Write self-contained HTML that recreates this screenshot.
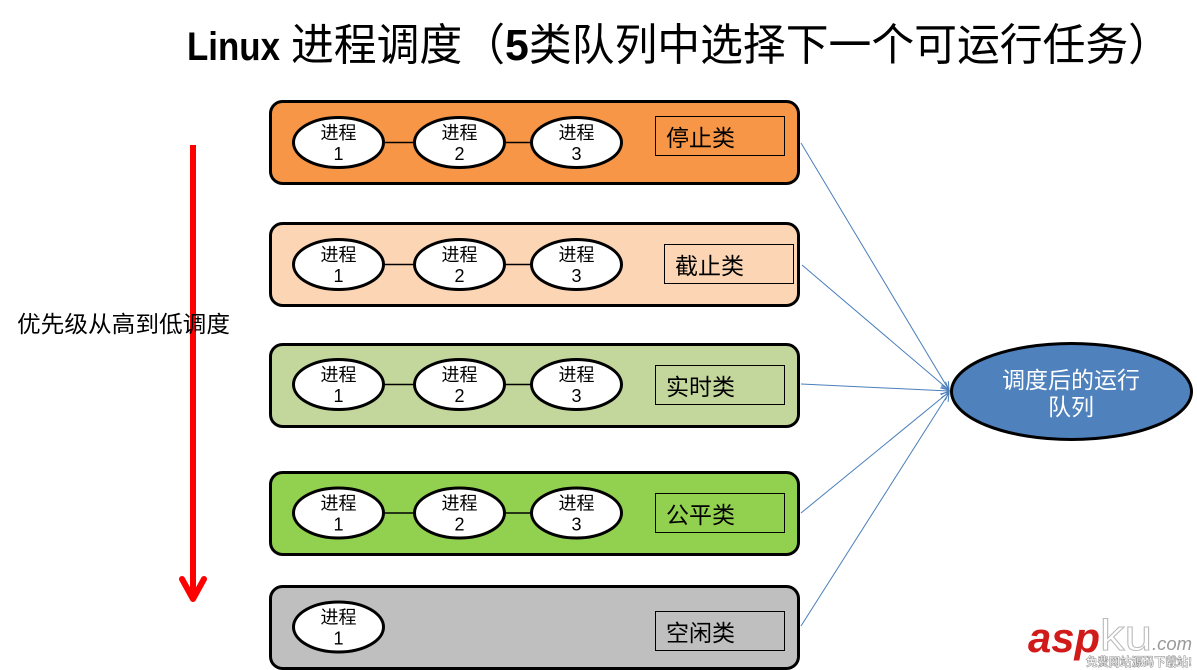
<!DOCTYPE html>
<html>
<head>
<meta charset="utf-8">
<style>
html,body{margin:0;padding:0;background:#fff;}
svg{display:block;}
text{font-family:"Liberation Sans","Noto Sans CJK SC",sans-serif;}
.cjk{font-family:"Liberation Sans","Noto Sans CJK SC",sans-serif;}
</style>
</head>
<body>
<svg width="1197" height="670" viewBox="0 0 1197 670" xmlns="http://www.w3.org/2000/svg">
<defs>
<marker id="arr" markerWidth="12" markerHeight="12" refX="10" refY="6" orient="auto" markerUnits="userSpaceOnUse">
<polyline points="2,2 10,6 2,10" fill="none" stroke="#4a7ebb" stroke-width="1"/>
</marker>
</defs>

<!-- Title -->
<text x="187" y="60" font-size="40" font-weight="bold" textLength="93" lengthAdjust="spacingAndGlyphs">Linux</text>
<text x="291" y="60" font-size="44" textLength="880" lengthAdjust="spacingAndGlyphs">进程调度（<tspan font-weight="bold">5</tspan>类队列中选择下一个可运行任务）</text>

<!-- Red arrow -->
<line x1="193" y1="145" x2="193" y2="598" stroke="#ff0000" stroke-width="6"/>
<polyline points="182,579 193,599 204,579" fill="none" stroke="#ff0000" stroke-width="6" stroke-linecap="round" stroke-linejoin="round"/>

<!-- Left label -->
<text x="17" y="332" font-size="23" textLength="213" lengthAdjust="spacingAndGlyphs">优先级从高到低调度</text>

<!-- Connectors -->
<g stroke="#4a7ebb" stroke-width="1" fill="none">
<line x1="801" y1="143" x2="949" y2="390" marker-end="url(#arr)"/>
<line x1="802" y1="265" x2="949" y2="390" marker-end="url(#arr)"/>
<line x1="801" y1="384" x2="949" y2="391" marker-end="url(#arr)"/>
<line x1="801" y1="513" x2="949" y2="392" marker-end="url(#arr)"/>
<line x1="801" y1="626" x2="949" y2="393" marker-end="url(#arr)"/>
</g>

<!-- Box 1 -->
<g>
<rect x="270.5" y="101.5" width="528" height="82" rx="12" fill="#f79646" stroke="#000" stroke-width="3"/>
<line x1="384" y1="142.5" x2="415" y2="142.5" stroke="#000" stroke-width="1.5"/>
<line x1="504" y1="142.5" x2="532" y2="142.5" stroke="#000" stroke-width="1.5"/>
<ellipse cx="338.5" cy="142.5" rx="45" ry="25" fill="#fff" stroke="#000" stroke-width="3"/>
<ellipse cx="459.5" cy="142.5" rx="45" ry="25" fill="#fff" stroke="#000" stroke-width="3"/>
<ellipse cx="576.5" cy="142.5" rx="45" ry="25" fill="#fff" stroke="#000" stroke-width="3"/>
<g font-size="18" text-anchor="middle">
<text x="338.5" y="139">进程</text><text x="338.5" y="160">1</text>
<text x="459.5" y="139">进程</text><text x="459.5" y="160">2</text>
<text x="576.5" y="139">进程</text><text x="576.5" y="160">3</text>
</g>
<rect x="655.5" y="116.5" width="129" height="39" fill="none" stroke="#000" stroke-width="1"/>
<text x="666" y="146" font-size="23">停止类</text>
</g>

<!-- Box 2 -->
<g>
<rect x="270.5" y="223.5" width="528" height="82" rx="12" fill="#fcd5b4" stroke="#000" stroke-width="3"/>
<line x1="384" y1="264.5" x2="415" y2="264.5" stroke="#000" stroke-width="1.5"/>
<line x1="504" y1="264.5" x2="532" y2="264.5" stroke="#000" stroke-width="1.5"/>
<ellipse cx="338.5" cy="264.5" rx="45" ry="25" fill="#fff" stroke="#000" stroke-width="3"/>
<ellipse cx="459.5" cy="264.5" rx="45" ry="25" fill="#fff" stroke="#000" stroke-width="3"/>
<ellipse cx="576.5" cy="264.5" rx="45" ry="25" fill="#fff" stroke="#000" stroke-width="3"/>
<g font-size="18" text-anchor="middle">
<text x="338.5" y="261">进程</text><text x="338.5" y="282">1</text>
<text x="459.5" y="261">进程</text><text x="459.5" y="282">2</text>
<text x="576.5" y="261">进程</text><text x="576.5" y="282">3</text>
</g>
<rect x="664.5" y="244.5" width="129" height="39" fill="none" stroke="#000" stroke-width="1"/>
<text x="675" y="274" font-size="23">截止类</text>
</g>

<!-- Box 3 -->
<g>
<rect x="270.5" y="344.5" width="528" height="82" rx="12" fill="#c3d69b" stroke="#000" stroke-width="3"/>
<line x1="384" y1="384.5" x2="415" y2="384.5" stroke="#000" stroke-width="1.5"/>
<line x1="504" y1="384.5" x2="532" y2="384.5" stroke="#000" stroke-width="1.5"/>
<ellipse cx="338.5" cy="384.5" rx="45" ry="25" fill="#fff" stroke="#000" stroke-width="3"/>
<ellipse cx="459.5" cy="384.5" rx="45" ry="25" fill="#fff" stroke="#000" stroke-width="3"/>
<ellipse cx="576.5" cy="384.5" rx="45" ry="25" fill="#fff" stroke="#000" stroke-width="3"/>
<g font-size="18" text-anchor="middle">
<text x="338.5" y="381">进程</text><text x="338.5" y="402">1</text>
<text x="459.5" y="381">进程</text><text x="459.5" y="402">2</text>
<text x="576.5" y="381">进程</text><text x="576.5" y="402">3</text>
</g>
<rect x="655.5" y="365.5" width="129" height="39" fill="none" stroke="#000" stroke-width="1"/>
<text x="666" y="395" font-size="23">实时类</text>
</g>

<!-- Box 4 -->
<g>
<rect x="270.5" y="472.5" width="528" height="82" rx="12" fill="#92d050" stroke="#000" stroke-width="3"/>
<line x1="384" y1="513" x2="415" y2="513" stroke="#000" stroke-width="1.5"/>
<line x1="504" y1="513" x2="532" y2="513" stroke="#000" stroke-width="1.5"/>
<ellipse cx="338.5" cy="513" rx="45" ry="25" fill="#fff" stroke="#000" stroke-width="3"/>
<ellipse cx="459.5" cy="513" rx="45" ry="25" fill="#fff" stroke="#000" stroke-width="3"/>
<ellipse cx="576.5" cy="513" rx="45" ry="25" fill="#fff" stroke="#000" stroke-width="3"/>
<g font-size="18" text-anchor="middle">
<text x="338.5" y="509.5">进程</text><text x="338.5" y="530.5">1</text>
<text x="459.5" y="509.5">进程</text><text x="459.5" y="530.5">2</text>
<text x="576.5" y="509.5">进程</text><text x="576.5" y="530.5">3</text>
</g>
<rect x="655.5" y="493.5" width="129" height="39" fill="none" stroke="#000" stroke-width="1"/>
<text x="666" y="523" font-size="23">公平类</text>
</g>

<!-- Box 5 -->
<g>
<rect x="270.5" y="586.5" width="528" height="82" rx="12" fill="#bfbfbf" stroke="#000" stroke-width="3"/>
<ellipse cx="338.5" cy="627" rx="45" ry="25" fill="#fff" stroke="#000" stroke-width="3"/>
<g font-size="18" text-anchor="middle">
<text x="338.5" y="623.5">进程</text><text x="338.5" y="644.5">1</text>
</g>
<rect x="655.5" y="611.5" width="129" height="39" fill="none" stroke="#000" stroke-width="1"/>
<text x="666" y="641" font-size="23">空闲类</text>
</g>

<!-- Blue ellipse -->
<ellipse cx="1071.5" cy="391.5" rx="120" ry="48" fill="#4f81bd" stroke="#000" stroke-width="3"/>
<g font-size="23" text-anchor="middle" fill="#fff">
<text x="1071" y="388">调度后的运行</text>
<text x="1071" y="415">队列</text>
</g>

<!-- Watermark -->
<text x="1028" y="652" font-size="42" font-weight="bold" font-style="italic" fill="#d11a1a" textLength="72" lengthAdjust="spacingAndGlyphs">asp</text>
<text x="1100" y="650" font-size="44" fill="#fff" stroke="#bbbbbb" stroke-width="1" textLength="52" lengthAdjust="spacingAndGlyphs">ku</text>
<text x="1152" y="650" font-size="18" font-style="italic" fill="#999" textLength="40" lengthAdjust="spacingAndGlyphs">.com</text>
<text x="1086" y="666" font-size="12" font-weight="bold" fill="#fff" stroke="#999" stroke-width="0.6" textLength="106" lengthAdjust="spacingAndGlyphs">免费网站源码下载站!</text>
</svg>
</body>
</html>
